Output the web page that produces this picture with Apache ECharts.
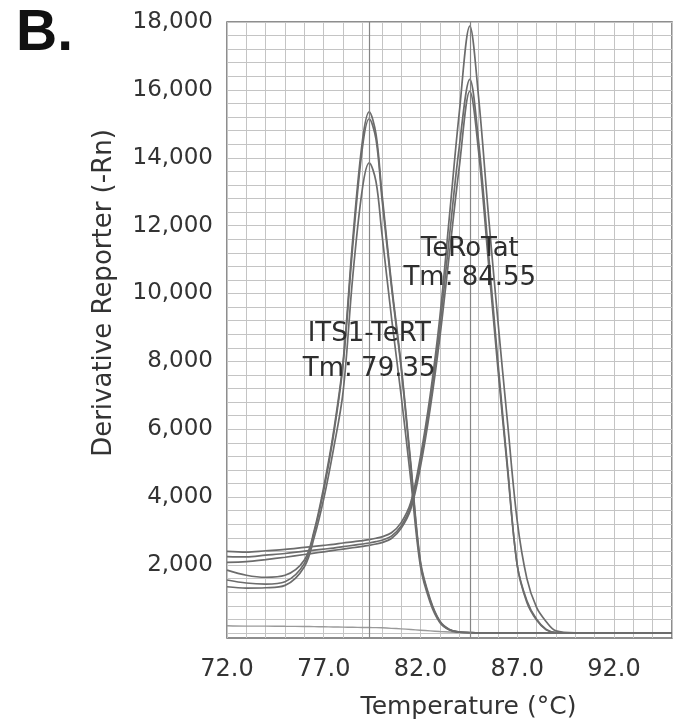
<!DOCTYPE html>
<html>
<head>
<meta charset="utf-8">
<script src="https://cdn.jsdelivr.net/npm/echarts@6/dist/echarts.min.js"></script>
<style>
  html, body { margin: 0; padding: 0; background: #fff; }
  #chart { width: 681px; height: 727px; }
</style>
</head>
<body>
<div id="chart"></div>
<script>
// temperature samples (°C), shared by every melt curve
var temps = [72, 73, 74, 75, 76, 76.5, 77, 77.5, 78, 78.5, 79, 79.35, 79.7, 80, 80.5, 81, 81.5, 82, 82.5, 83, 83.5, 84, 84.55, 85, 85.5, 86, 86.5, 87, 87.5, 88, 88.5, 89, 90, 92, 95];

// ITS1-TeRT replicates (Tm 79.35)
var its1A = [1850, 1700, 1640, 1700, 2150, 3000, 4300, 5900, 8000, 11600, 14500, 15350, 14700, 13000, 10300, 7900, 5000, 2100, 1000, 350, 100, 30, 10, 0, 0, 0, 0, 0, 0, 0, 0, 0, 0, 0, 0];
var its1B = [1560, 1470, 1440, 1510, 2050, 2950, 4200, 5800, 7900, 11400, 14300, 15150, 14550, 12850, 10200, 7800, 4900, 2050, 960, 330, 90, 25, 10, 0, 0, 0, 0, 0, 0, 0, 0, 0, 0, 0, 0];
var its1C = [1360, 1320, 1330, 1400, 1950, 2800, 3950, 5400, 7100, 10500, 13100, 13850, 13300, 11800, 9300, 7000, 4500, 1950, 900, 310, 85, 20, 5, 0, 0, 0, 0, 0, 0, 0, 0, 0, 0, 0, 0];

// TeRoTat replicates (Tm 84.55)
var teroA = [2400, 2380, 2420, 2460, 2520, 2550, 2580, 2610, 2650, 2680, 2720, 2750, 2790, 2830, 2950, 3250, 3850, 5200, 7000, 9300, 12300, 15300, 17880, 15800, 12400, 9200, 6200, 3300, 1600, 750, 330, 60, 0, 0, 0];
var teroB = [2250, 2240, 2290, 2340, 2410, 2440, 2470, 2500, 2540, 2580, 2620, 2650, 2690, 2730, 2850, 3150, 3750, 5050, 6800, 9000, 11700, 14300, 16310, 14500, 11300, 8000, 4900, 2000, 950, 400, 100, 10, 0, 0, 0];
var teroC = [2080, 2100, 2160, 2230, 2310, 2350, 2390, 2430, 2470, 2510, 2550, 2580, 2620, 2660, 2780, 3080, 3650, 4900, 6600, 8700, 11200, 13700, 15960, 14200, 11000, 7800, 4800, 2000, 900, 380, 90, 10, 0, 0, 0];

// no-template control
var ntc = [210, 200, 200, 195, 190, 185, 180, 175, 170, 165, 160, 158, 155, 150, 135, 120, 100, 80, 60, 40, 25, 10, 0, 0, 0, 0, 0, 0, 0, 0, 0, 0, 0, 0, 0];

var tmValues = [79.35, 84.55];
var yLabelValues = [2000, 4000, 6000, 8000, 10000, 12000, 14000, 16000, 18000];
var yGridValues = [];
for (var g = 0; g <= 18000; g += 400) yGridValues.push(g);

var annotations = [
  {text: 'ITS1-TeRT\nTm: 79.35', t: 79.35, v: 8290, lineHeight: 35},
  {text: 'TeRoTat\nTm: 84.55', t: 84.55, v: 10880, lineHeight: 29}
];

var FONT = '"DejaVu Sans", sans-serif';
var CURVE = '#6c6c6c';

function pairs(arr) {
  return temps.map(function (t, i) { return [t, arr[i]]; });
}

function curve(name, arr, extra) {
  var s = {
    name: name,
    type: 'line',
    data: pairs(arr),
    smooth: 0.35,
    symbol: 'none',
    lineStyle: {color: CURVE, width: 1.7},
    silent: true,
    animation: false
  };
  if (extra) for (var k in extra) s[k] = extra[k];
  return s;
}

var chart = echarts.init(document.getElementById('chart'));

var option = {
  backgroundColor: '#fff',
  animation: false,
  grid: {
    left: 227, right: 9, top: 22, bottom: 89,
    show: true, borderColor: '#6a6a6a', borderWidth: 1.5,
    outerBoundsMode: 'none'
  },
  xAxis: {
    type: 'value',
    min: 72, max: 95, interval: 1,
    name: 'Temperature (°C)',
    nameLocation: 'middle',
    nameGap: 57,
    nameTextStyle: {fontFamily: FONT, fontSize: 25, color: '#333', padding: [0, 0, 0, 38]},
    axisLine: {show: false},
    axisTick: {show: false},
    axisLabel: {
      margin: 20,
      fontFamily: FONT, fontSize: 24, color: '#333',
      formatter: function (v) { return (Math.round(v) - 72) % 5 === 0 ? v.toFixed(1) : ''; }
    },
    splitLine: {show: true, lineStyle: {color: '#c4c4c4', width: 1}}
  },
  yAxis: {
    type: 'value',
    min: -150, max: 18000,
    name: 'Derivative Reporter (-Rn)',
    nameLocation: 'middle',
    nameGap: 110,
    nameTextStyle: {fontFamily: FONT, fontSize: 26, color: '#333', padding: [0, 0, 0, 74]},
    axisLine: {show: false},
    axisTick: {show: false, customValues: yGridValues},
    axisLabel: {
      margin: 14,
      fontFamily: FONT, fontSize: 23, color: '#333',
      customValues: yLabelValues,
      formatter: function (v) { return v.toLocaleString('en-US'); }
    },
    splitLine: {show: true, lineStyle: {color: '#c4c4c4', width: 1}}
  },
  series: [
    curve('NTC', ntc, {lineStyle: {color: '#9a9a9a', width: 1.4}}),
    curve('ITS1-TeRT 1', its1A, {
      markLine: {
        silent: true, symbol: 'none', animation: false,
        label: {show: false},
        lineStyle: {color: '#858585', width: 1.2, type: 'solid'},
        data: tmValues.map(function (t) { return {xAxis: t}; })
      }
    }),
    curve('ITS1-TeRT 2', its1B),
    curve('ITS1-TeRT 3', its1C),
    curve('TeRoTat 1', teroA),
    curve('TeRoTat 2', teroB),
    curve('TeRoTat 3', teroC)
  ],
  graphic: [{
    id: 'panel',
    type: 'text',
    left: 16, top: 6,
    style: {text: 'B.', font: 'bold 57px "Liberation Sans", Arial, sans-serif', fill: '#111'}
  }]
};

chart.setOption(option);

// place the Tm annotations at data coordinates
chart.setOption({
  graphic: annotations.map(function (a, i) {
    var p = chart.convertToPixel({gridIndex: 0}, [a.t, a.v]);
    return {
      id: 'note' + i,
      type: 'text',
      x: p[0], y: p[1],
      z: 100,
      style: {
        text: a.text,
        font: '26px ' + FONT,
        fill: '#2e2e2e',
        align: 'center',
        verticalAlign: 'middle',
        lineHeight: a.lineHeight
      }
    };
  })
});
</script>
</body>
</html>
